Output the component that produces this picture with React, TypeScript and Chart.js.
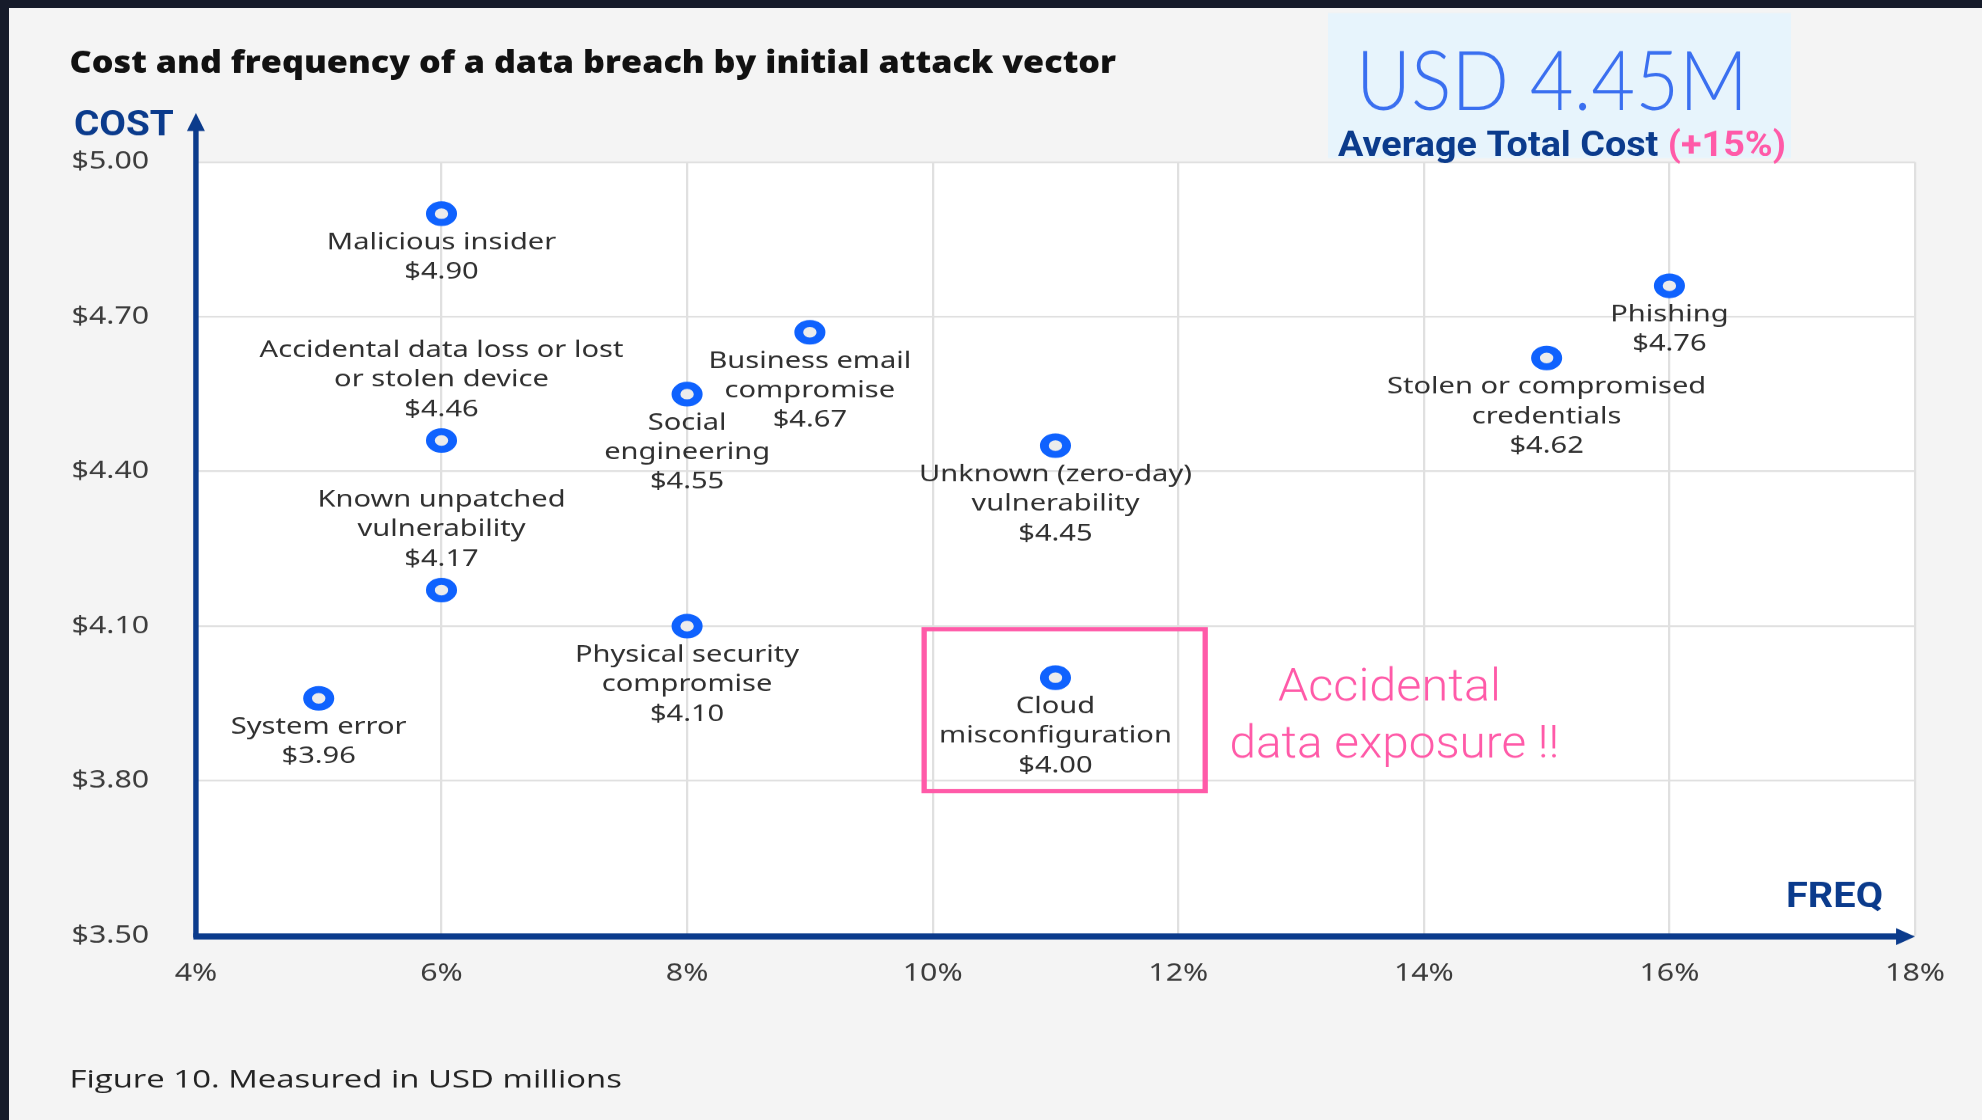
import React, { useEffect, useRef } from 'react';
import { Chart, registerables } from 'chart.js';

Chart.register(...registerables);

// ---------- data ----------
const attackVectors = [
  'Malicious insider',
  'Phishing',
  'Stolen or compromised\ncredentials',
  'Business email\ncompromise',
  'Social\nengineering',
  'Unknown (zero-day)\nvulnerability',
  'Accidental data loss or lost\nor stolen device',
  'Cloud\nmisconfiguration',
  'Physical security\ncompromise',
  'Known unpatched\nvulnerability',
  'System error',
];
const frequencyPct = [6, 16, 15, 9, 8, 11, 6, 11, 8, 6, 5];
const costMillions = [4.9, 4.76, 4.62, 4.67, 4.55, 4.45, 4.46, 4.0, 4.1, 4.17, 3.96];
const labelAboveMarker = [false, false, false, false, false, false, true, false, false, true, false];
const xTicks = [4, 6, 8, 10, 12, 14, 16, 18];
const yTicks = [3.5, 3.8, 4.1, 4.4, 4.7, 5.0];

const highlightBox = { xMin: 9.91, xMax: 12.24, yMin: 3.776, yMax: 4.098 };
const calloutLines = ['Accidental', 'data exposure !!'];
const calloutAnchor = { x: 13.74, y: 3.956 };

const chartTitle = 'Cost and frequency of a data breach by initial attack vector';
const figureCaption = 'Figure 10. Measured in USD millions';
const headlineValue = 'USD 4.45M';
const headlineLabel = 'Average Total Cost ';
const headlineChange = '(+15%)';
const yAxisName = 'COST';
const xAxisName = 'FREQ';

// ---------- styling ----------
const W = 1568;
const H = 1120;
const SX = 1982 / 1568;
const NAVY = '#0b3b8c';
const PINK = '#ff5aa8';
const MARK_BLUE = '#0f62fe';

function fitText(ctx: CanvasRenderingContext2D, text: string, x: number, y: number, width: number, align: CanvasTextAlign) {
  const w = ctx.measureText(text).width || 1;
  const k = width / w;
  ctx.save();
  ctx.translate(x, y);
  ctx.scale(k, 1);
  ctx.textAlign = align;
  ctx.fillText(text, 0, 0);
  ctx.restore();
  return k;
}

const plotBackground = {
  id: 'plotBackground',
  beforeDraw(chart: any) {
    const { ctx, chartArea: a } = chart;
    ctx.save();
    ctx.fillStyle = '#ffffff';
    ctx.fillRect(a.left, a.top, a.right - a.left, a.bottom - a.top);
    ctx.restore();
  },
};

const pointLabels = {
  id: 'pointLabels',
  afterDatasetsDraw(chart: any) {
    const { ctx } = chart;
    const meta = chart.getDatasetMeta(0);
    ctx.save();
    ctx.font = '23px "Noto Sans"';
    ctx.fillStyle = '#303030';
    ctx.textAlign = 'center';
    ctx.textBaseline = 'middle';
    const lh = 29.5;
    meta.data.forEach((pt: any, i: number) => {
      const lines = attackVectors[i].split('\n').concat('$' + costMillions[i].toFixed(2));
      lines.forEach((line, j) => {
        const yy = labelAboveMarker[i]
          ? pt.y - 31 - (lines.length - 1 - j) * lh
          : pt.y + 29 + j * lh;
        ctx.fillText(line, pt.x, yy);
      });
    });
    ctx.restore();
  },
};

const decorations = {
  id: 'decorations',
  afterDraw(chart: any) {
    const { ctx, chartArea: a, scales } = chart;
    const xs = scales.x;
    const ys = scales.y;
    ctx.save();

    // highlight box
    const bx1 = xs.getPixelForValue(highlightBox.xMin);
    const bx2 = xs.getPixelForValue(highlightBox.xMax);
    const by1 = ys.getPixelForValue(highlightBox.yMax);
    const by2 = ys.getPixelForValue(highlightBox.yMin);
    ctx.strokeStyle = PINK;
    ctx.lineWidth = 4.2;
    ctx.strokeRect(bx1 + 2, by1 + 2, bx2 - bx1 - 4, by2 - by1 - 4);

    // axis arrows
    ctx.strokeStyle = NAVY;
    ctx.fillStyle = NAVY;
    ctx.lineWidth = 4.3;
    ctx.beginPath();
    ctx.moveTo(a.left, a.bottom + 2);
    ctx.lineTo(a.left, a.top - 32);
    ctx.stroke();
    ctx.beginPath();
    ctx.moveTo(a.left - 7.1, a.top - 31);
    ctx.lineTo(a.left, a.top - 49);
    ctx.lineTo(a.left + 7.1, a.top - 31);
    ctx.closePath();
    ctx.fill();

    ctx.lineWidth = 6;
    ctx.beginPath();
    ctx.moveTo(a.left - 2, a.bottom + 1);
    ctx.lineTo(a.right - 14, a.bottom + 1);
    ctx.stroke();
    ctx.beginPath();
    ctx.moveTo(a.right - 15, a.bottom + 1 - 8.5);
    ctx.lineTo(a.right, a.bottom + 1);
    ctx.lineTo(a.right - 15, a.bottom + 1 + 8.5);
    ctx.closePath();
    ctx.fill();

    // axis names
    ctx.textBaseline = 'alphabetic';
    ctx.font = 'bold 35px Roboto';
    fitText(ctx, yAxisName, a.left - 96.5, a.top - 27, 79, 'left');
    fitText(ctx, xAxisName, a.right - 25.3, a.bottom - 28, 76.7, 'right');

    // title & caption
    ctx.fillStyle = '#111111';
    ctx.font = '800 31px "Open Sans"';
    fitText(ctx, chartTitle, 55, 73, 828, 'left');
    ctx.fillStyle = '#222222';
    ctx.font = '500 25px "Open Sans"';
    fitText(ctx, figureCaption, 55, 1087, 437, 'left');

    // headline box
    ctx.fillStyle = '#e7f4fc';
    ctx.fillRect(1050.6, 13, 366.3, 145);
    ctx.fillStyle = '#3a6ff0';
    ctx.font = '300 83px Lato';
    fitText(ctx, headlineValue, 1072.8, 110, 310, 'left');
    ctx.font = 'bold 35px Roboto';
    const full = ctx.measureText(headlineLabel + headlineChange).width;
    const k = 354.4 / full;
    const lw = ctx.measureText(headlineLabel).width;
    ctx.fillStyle = NAVY;
    ctx.save();
    ctx.translate(1058.5, 156);
    ctx.scale(k, 1);
    ctx.textAlign = 'left';
    ctx.fillText(headlineLabel, 0, 0);
    ctx.fillStyle = PINK;
    ctx.fillText(headlineChange, lw, 0);
    ctx.restore();

    // callout
    ctx.fillStyle = PINK;
    ctx.font = '300 46px Roboto';
    const cx = xs.getPixelForValue(calloutAnchor.x);
    const cy = ys.getPixelForValue(calloutAnchor.y);
    fitText(ctx, calloutLines[0], cx - 2, cy, 176.4, 'center');
    fitText(ctx, calloutLines[1], cx + 2, cy + 57, 261, 'center');

    ctx.restore();
  },
};

export default function App() {
  const ref = useRef<HTMLCanvasElement>(null);

  useEffect(() => {
    const canvas = ref.current;
    if (!canvas) return;
    const tickFont = { family: '"Noto Sans"', size: 24 };
    const chart = new Chart(canvas, {
      type: 'scatter',
      data: {
        datasets: [
          {
            data: frequencyPct.map((f, i) => ({ x: f, y: costMillions[i] })),
            pointRadius: 8.8,
            pointHoverRadius: 8.8,
            pointBorderWidth: 7,
            pointBackgroundColor: '#ececec',
            pointBorderColor: MARK_BLUE,
          },
        ],
      },
      options: {
        responsive: false,
        animation: false,
        devicePixelRatio: SX,
        events: [],
        layout: { padding: { top: 162, right: 53, bottom: 125, left: 0 } },
        plugins: {
          legend: { display: false },
          tooltip: { enabled: false },
          title: { display: false },
        },
        scales: {
          x: {
            type: 'linear',
            min: 4,
            max: 18,
            afterFit: (s: any) => {
              s.height = 60;
            },
            afterBuildTicks: (s: any) => {
              s.ticks = xTicks.map((v) => ({ value: v }));
            },
            ticks: {
              callback: (v: any) => v + '%',
              font: tickFont,
              color: '#3c3c3c',
              padding: 23.6,
              maxRotation: 0,
              autoSkip: false,
            },
            grid: { color: '#e0e0e0', lineWidth: 1.8, drawTicks: false },
            border: { display: false },
          },
          y: {
            type: 'linear',
            min: 3.5,
            max: 5.0,
            afterFit: (s: any) => {
              s.width = 155;
            },
            afterBuildTicks: (s: any) => {
              s.ticks = yTicks.map((v) => ({ value: v }));
            },
            ticks: {
              callback: (v: any) => '$' + Number(v).toFixed(2),
              font: tickFont,
              color: '#3c3c3c',
              padding: 37,
              autoSkip: false,
            },
            grid: { color: '#e0e0e0', lineWidth: 1.8, drawTicks: false },
            border: { display: false },
          },
        },
      } as any,
      plugins: [plotBackground, pointLabels, decorations],
    });
    return () => chart.destroy();
  }, []);

  return (
    <div
      style={{
        position: 'absolute',
        left: 0,
        top: 0,
        width: 1982,
        height: 1120,
        background: '#161b2a',
        overflow: 'hidden',
      }}
    >
      <div style={{ position: 'absolute', left: 9, top: 8, right: 0, bottom: 0, background: '#f4f4f4' }} />
      <div
        style={{
          position: 'absolute',
          left: 0,
          top: 0,
          width: W,
          height: H,
          transform: `scaleX(${SX})`,
          transformOrigin: '0 0',
        }}
      >
        <canvas ref={ref} width={W} height={H} style={{ display: 'block' }} />
      </div>
    </div>
  );
}
